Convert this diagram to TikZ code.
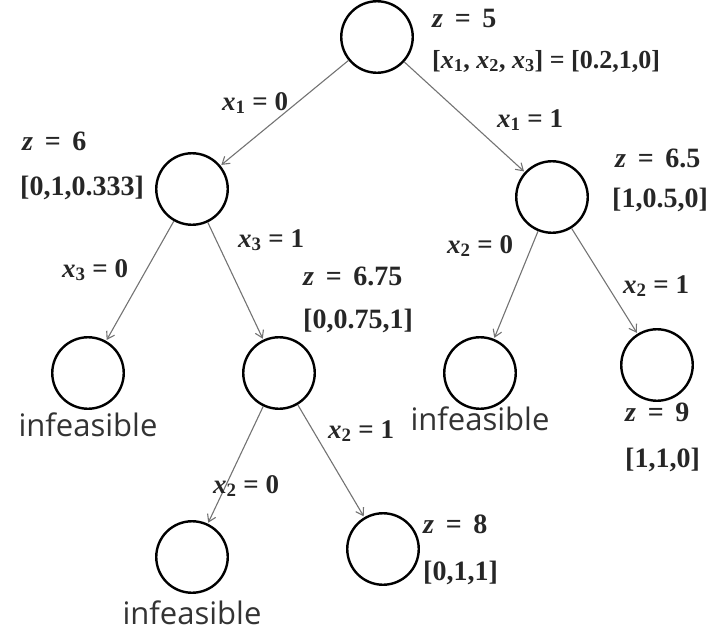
\documentclass[tikz,border=0pt]{standalone}
\usepackage{fontspec}
\setmainfont{Liberation Serif}
\newfontfamily\infsans{Open Sans}
\usetikzlibrary{arrows.meta,positioning}

\begin{document}
\begin{tikzpicture}[
  x=1pt, y=-1pt,
  bbnode/.style={draw=black, line width=2.4pt, circle, minimum size=71.5pt,
                 inner sep=0pt},
  branch/.style={draw=black!55, line width=1.1pt,
                 -{Straight Barb[length=7pt,width=9pt]}, shorten >=1pt},
  val/.style={font=\fontsize{28}{32}\selectfont\bfseries, text=black!85,
              anchor=base west, inner sep=0pt},
  cut/.style={font=\fontsize{27}{30}\selectfont\bfseries, text=black!85,
              anchor=base west, inner sep=0pt},
  infs/.style={font=\fontsize{31}{34}\selectfont\infsans, text=black!80,
               inner sep=0pt}
]
\useasboundingbox (0,0) rectangle (714,635);

% ===== 结点 =====
\node[bbnode] (root) at (377, 37) {};
\node[bbnode] (n1)   at (192,189) {};
\node[bbnode] (n2)   at (552,197) {};
\node[bbnode] (n11)  at ( 88,373) {};
\node[bbnode] (n12)  at (279,373) {};
\node[bbnode] (n21)  at (480,373) {};
\node[bbnode] (n22)  at (657,365) {};
\node[bbnode] (n121) at (192,557) {};
\node[bbnode] (n122) at (383,549) {};

% ===== 分支 =====
\draw[branch] (root) -- (n1);
\draw[branch] (root) -- (n2);
\draw[branch] (n1) -- (n11);
\draw[branch] (n1) -- (n12);
\draw[branch] (n2) -- (n21);
\draw[branch] (n2) -- (n22);
\draw[branch] (n12) -- (n121);
\draw[branch] (n12) -- (n122);

% ===== 分支条件 =====
\node[cut] (c1)   at (222,110) {\textit{x}\textsubscript{1} = 0};
\node[cut] (c2)   at (497,127) {\textit{x}\textsubscript{1} = 1};
\node[cut] (c11)  at ( 62,277) {\textit{x}\textsubscript{3} = 0};
\node[cut] (c12)  at (238,247) {\textit{x}\textsubscript{3} = 1};
\node[cut] (c21)  at (447,253) {\textit{x}\textsubscript{2} = 0};
\node[cut] (c22)  at (623,293) {\textit{x}\textsubscript{2} = 1};
\node[cut] (c121) at (213,493) {\textit{x}\textsubscript{2} = 0};
\node[cut] (c122) at (328,438) {\textit{x}\textsubscript{2} = 1};

% ===== 松弛解 =====
\node[val] (z0) at (432, 27) {\textit{z}\,\ =\,\ 5};
\node[val, font=\fontsize{26}{30}\selectfont\bfseries] (s0) at (432, 68)
  {[\textit{x}\textsubscript{1}, \textit{x}\textsubscript{2}, \textit{x}\textsubscript{3}] = [0.2,1,0]};
\node[val] (z1) at ( 22,150) {\textit{z}\,\ =\,\ 6};
\node[val] (s1) at ( 20,195) {[0,1,0.333]};
\node[val] (z2) at (615,167) {\textit{z}\,\ =\,\ 6.5};
\node[val] (s2) at (612,207) {[1,0.5,0]};
\node[val] (z12) at (303,285) {\textit{z}\,\ =\,\ 6.75};
\node[val] (s12) at (303,328) {[0,0.75,1]};
\node[val] (z22) at (625,421) {\textit{z}\,\ =\,\ 9};
\node[val] (s22) at (625,467) {[1,1,0]};
\node[val] (z122) at (423,533) {\textit{z}\,\ =\,\ 8};
\node[val] (s122) at (423,580) {[0,1,1]};

% ===== 不可行 =====
\node[infs, below=3pt of n11]  (f11)  {infeasible};
\node[infs, below=-3pt of n21] (f21)  {infeasible};
\node[infs, below=7pt of n121] (f121) {infeasible};

\end{tikzpicture}
\end{document}
